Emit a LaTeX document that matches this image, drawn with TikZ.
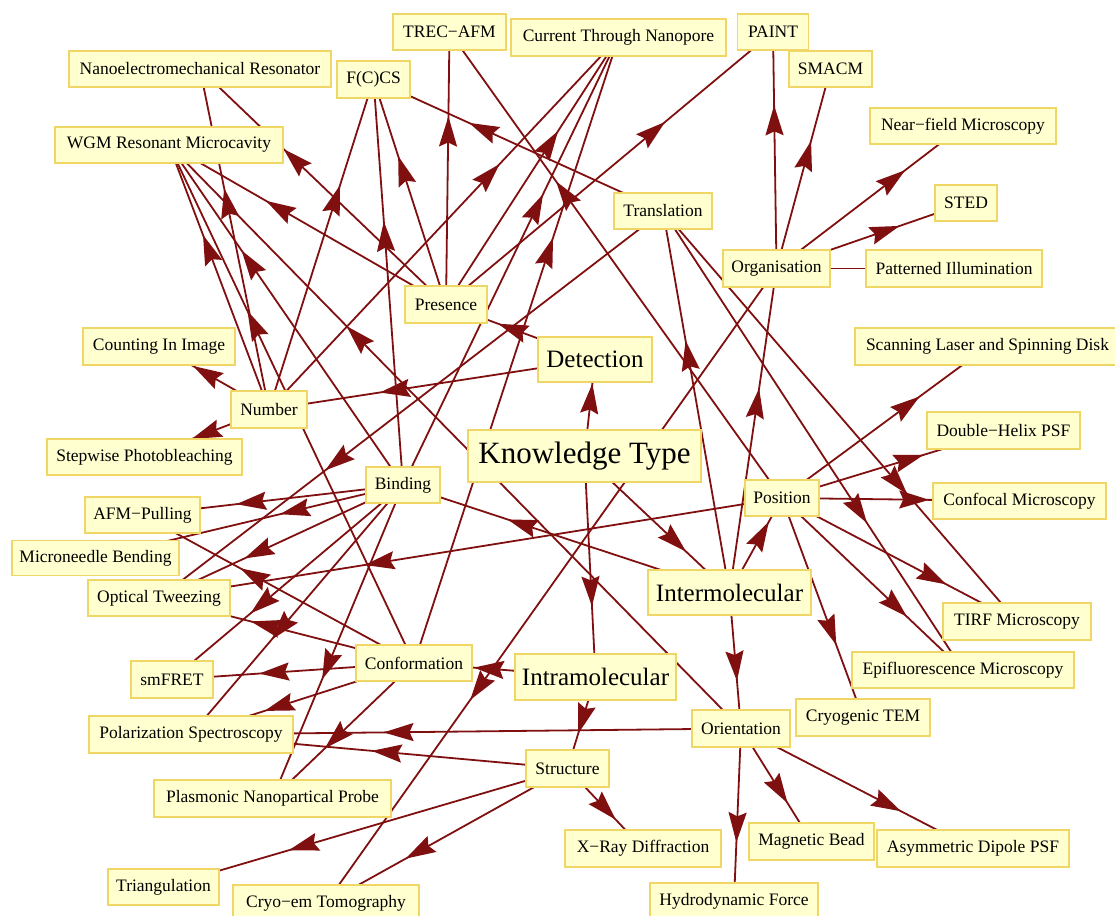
\documentclass[tikz,border=0pt]{standalone}
\usepackage{fontspec}
\setmainfont{Liberation Serif}
\usetikzlibrary{arrows.meta,decorations.markings}
\pgfdeclarelayer{bg}
\pgfsetlayers{bg,main}
\definecolor{edgec}{RGB}{128,16,16}
\definecolor{boxfill}{RGB}{255,255,208}
\definecolor{boxdraw}{RGB}{240,214,100}
\begin{document}
\begin{tikzpicture}[x=1pt,y=-1pt,
 box/.style={draw=boxdraw, fill=boxfill, line width=1.9pt, inner sep=0pt, font=\fontsize{17.5}{20}\selectfont, text=black},
 bigbox/.style={box, font=\fontsize{25}{30}\selectfont},
 ktbox/.style={box, font=\fontsize{31}{36}\selectfont},
 lnk/.style={color=edgec, line width=1.8pt, postaction={decorate},
   decoration={markings, mark=at position #1 with {\arrow{Stealth[length=30pt,width=18pt,inset=4pt]}}}},
 lnk/.default=0.67]
\useasboundingbox (0,0) rectangle (1115,915);
\node[box,minimum width=262pt,minimum height=36pt] (nr) at (200,69) {Nanoelectromechanical Resonator};
\node[box,minimum width=73pt,minimum height=37pt] (fccs) at (373.5,79.5) {F(C)CS};
\node[box,minimum width=228pt,minimum height=36pt] (wgm) at (169,145) {WGM Resonant Microcavity};
\node[box,minimum width=113pt,minimum height=36pt] (trec) at (449.5,32) {TREC−AFM};
\node[box,minimum width=215pt,minimum height=37pt] (ctn) at (618.5,37.5) {Current Through Nanopore};
\node[box,minimum width=71pt,minimum height=36pt] (paint) at (773,32) {PAINT};
\node[box,minimum width=83pt,minimum height=36pt] (smacm) at (830.5,69) {SMACM};
\node[box,minimum width=186pt,minimum height=36pt] (nfm) at (963,126) {Near−field Microscopy};
\node[box,minimum width=62pt,minimum height=36pt] (sted) at (966,203) {STED};
\node[box,minimum width=98pt,minimum height=36pt] (trans) at (663,211) {Translation};
\node[box,minimum width=107pt,minimum height=37pt] (org) at (776.5,268.5) {Organisation};
\node[box,minimum width=176pt,minimum height=37pt] (pi) at (954,268.5) {Patterned Illumination};
\node[box,minimum width=82pt,minimum height=37pt] (pres) at (446,304.5) {Presence};
\node[bigbox,minimum width=114pt,minimum height=45pt] (det) at (595,359.5) {Detection};
\node[box,minimum width=152pt,minimum height=37pt] (cii) at (159,346.5) {Counting In Image};
\node[box,minimum width=76pt,minimum height=37pt] (num) at (269,409.5) {Number};
\node[box,minimum width=195pt,minimum height=36pt] (sp) at (144.5,457) {Stepwise Photobleaching};
\node[box,minimum width=265pt,minimum height=37pt] (slsd) at (987.5,346.5) {Scanning Laser and Spinning Disk};
\node[box,minimum width=153pt,minimum height=37pt] (dhpsf) at (1003.5,430.5) {Double−Helix PSF};
\node[ktbox,minimum width=233pt,minimum height=52pt] (kt) at (584.5,456) {Knowledge Type};
\node[box,minimum width=74pt,minimum height=36pt] (bind) at (403,485) {Binding};
\node[box,minimum width=115pt,minimum height=36pt] (afmp) at (142.5,515) {AFM−Pulling};
\node[box,minimum width=167pt,minimum height=35pt] (mnb) at (95.5,558) {Microneedle Bending};
\node[box,minimum width=142pt,minimum height=36pt] (ot) at (159,598) {Optical Tweezing};
\node[box,minimum width=74pt,minimum height=36pt] (pos) at (782,498) {Position};
\node[box,minimum width=173pt,minimum height=36pt] (confm) at (1019.5,501) {Confocal Microscopy};
\node[bigbox,minimum width=163pt,minimum height=45pt] (inter) at (729.5,592.5) {Intermolecular};
\node[box,minimum width=148pt,minimum height=37pt] (tirf) at (1017,621.5) {TIRF Microscopy};
\node[box,minimum width=222pt,minimum height=36pt] (epi) at (963,670) {Epifluorescence Microscopy};
\node[box,minimum width=82pt,minimum height=37pt] (smfret) at (172,679.5) {smFRET};
\node[box,minimum width=116pt,minimum height=36pt] (conf) at (414,663) {Conformation};
\node[bigbox,minimum width=161pt,minimum height=46pt] (intra) at (595.5,677) {Intramolecular};
\node[box,minimum width=134pt,minimum height=37pt] (ctem) at (863,717.5) {Cryogenic TEM};
\node[box,minimum width=98pt,minimum height=37pt] (orient) at (741,728.5) {Orientation};
\node[box,minimum width=204pt,minimum height=37pt] (ps) at (191,734.5) {Polarization Spectroscopy};
\node[box,minimum width=83pt,minimum height=37pt] (struct) at (567.5,768.5) {Structure};
\node[box,minimum width=237pt,minimum height=37pt] (pnp) at (272.5,798.5) {Plasmonic Nanopartical Probe};
\node[box,minimum width=156pt,minimum height=37pt] (xrd) at (643,848.5) {X−Ray Diffraction};
\node[box,minimum width=125pt,minimum height=37pt] (mb) at (811.5,841.5) {Magnetic Bead};
\node[box,minimum width=192pt,minimum height=37pt] (adpsf) at (973,848.5) {Asymmetric Dipole PSF};
\node[box,minimum width=111pt,minimum height=36pt] (tri) at (163.5,887) {Triangulation};
\node[box,minimum width=186pt,minimum height=36pt] (cet) at (326,903) {Cryo−em Tomography};
\node[box,minimum width=168pt,minimum height=36pt] (hf) at (734,901) {Hydrodynamic Force};
\begin{pgfonlayer}{bg}
\draw[lnk=0.75] (kt.center) -- (det.center);
\draw[lnk=0.7] (kt.center) -- (inter.center);
\draw[lnk=0.68] (kt.center) -- (intra.center);
\draw[lnk=0.65] (det.center) -- (pres.center);
\draw[lnk=0.66] (det.center) -- (num.center);
\draw[lnk=0.68] (inter.center) -- (bind.center);
\draw[lnk=0.75] (inter.center) -- (pos.center);
\draw[lnk=0.65] (inter.center) -- (orient.center);
\draw[lnk=0.66] (inter.center) -- (trans.center);
\draw[lnk=0.63] (inter.center) -- (org.center);
\draw[lnk=0.67] (intra.center) -- (conf.center);
\draw[lnk=0.62] (intra.center) -- (struct.center);
\draw[lnk=0.65] (pres.center) -- (wgm.center);
\draw[lnk=0.66] (pres.center) -- (nr.center);
\draw[lnk=0.66] (pres.center) -- (fccs.center);
\draw[lnk=0.69] (pres.center) -- (trec.center);
\draw[lnk=0.65] (pres.center) -- (ctn.center);
\draw[lnk=0.67] (pres.center) -- (paint.center);
\draw[lnk=0.65] (num.center) -- (nr.center);
\draw[lnk=0.66] (num.center) -- (wgm.center);
\draw[lnk=0.68] (num.center) -- (fccs.center);
\draw[lnk=0.66] (num.center) -- (ctn.center);
\draw[lnk=0.69] (num.center) -- (cii.center);
\draw[lnk=0.62] (num.center) -- (sp.center);
\draw[lnk=0.69] (bind.center) -- (wgm.center);
\draw[lnk=0.65] (bind.center) -- (fccs.center);
\draw[lnk=0.65] (bind.center) -- (ctn.center);
\draw[lnk=0.64] (bind.center) -- (afmp.center);
\draw[lnk=0.4] (bind.center) -- (mnb.center);
\draw[lnk=0.65] (bind.center) -- (ot.center);
\draw[lnk=0.66] (bind.center) -- (smfret.center);
\draw[lnk=0.62] (bind.center) -- (ps.center);
\draw[lnk=0.62] (bind.center) -- (pnp.center);
\draw[lnk=0.68] (conf.center) -- (wgm.center);
\draw[lnk=0.68] (conf.center) -- (ctn.center);
\draw[lnk=0.64] (conf.center) -- (afmp.center);
\draw[lnk=0.64] (conf.center) -- (ot.center);
\draw[lnk=0.64] (conf.center) -- (smfret.center);
\draw[lnk=0.67] (conf.center) -- (ps.center);
\draw[lnk=0.63] (conf.center) -- (pnp.center);
\draw[lnk=0.67] (trans.center) -- (fccs.center);
\draw[lnk=0.67] (trans.center) -- (ot.center);
\draw[lnk=0.69] (trans.center) -- (tirf.center);
\draw[lnk=0.68] (trans.center) -- (epi.center);
\draw[lnk=0.69] (org.center) -- (paint.center);
\draw[lnk=0.64] (org.center) -- (smacm.center);
\draw[lnk=0.69] (org.center) -- (nfm.center);
\draw[lnk=0.65] (org.center) -- (sted.center);
\draw[lnk=0.67] (org.center) -- (pi.center);
\draw[lnk=0.68] (org.center) -- (cet.center);
\draw[lnk=0.68] (pos.center) -- (trec.center);
\draw[lnk=0.67] (pos.center) -- (slsd.center);
\draw[lnk=0.64] (pos.center) -- (dhpsf.center);
\draw[lnk=0.62] (pos.center) -- (confm.center);
\draw[lnk=0.70] (pos.center) -- (tirf.center);
\draw[lnk=0.69] (pos.center) -- (epi.center);
\draw[lnk=0.67] (pos.center) -- (ctem.center);
\draw[lnk=0.67] (pos.center) -- (ot.center);
\draw[lnk=0.69] (orient.center) -- (wgm.center);
\draw[lnk=0.65] (orient.center) -- (ps.center);
\draw[lnk=0.66] (orient.center) -- (mb.center);
\draw[lnk=0.69] (orient.center) -- (adpsf.center);
\draw[lnk=0.66] (orient.center) -- (hf.center);
\draw[lnk=0.52] (struct.center) -- (ps.center);
\draw[lnk=0.64] (struct.center) -- (xrd.center);
\draw[lnk=0.69] (struct.center) -- (tri.center);
\draw[lnk=0.67] (struct.center) -- (cet.center);
\end{pgfonlayer}
\end{tikzpicture}
\end{document}
